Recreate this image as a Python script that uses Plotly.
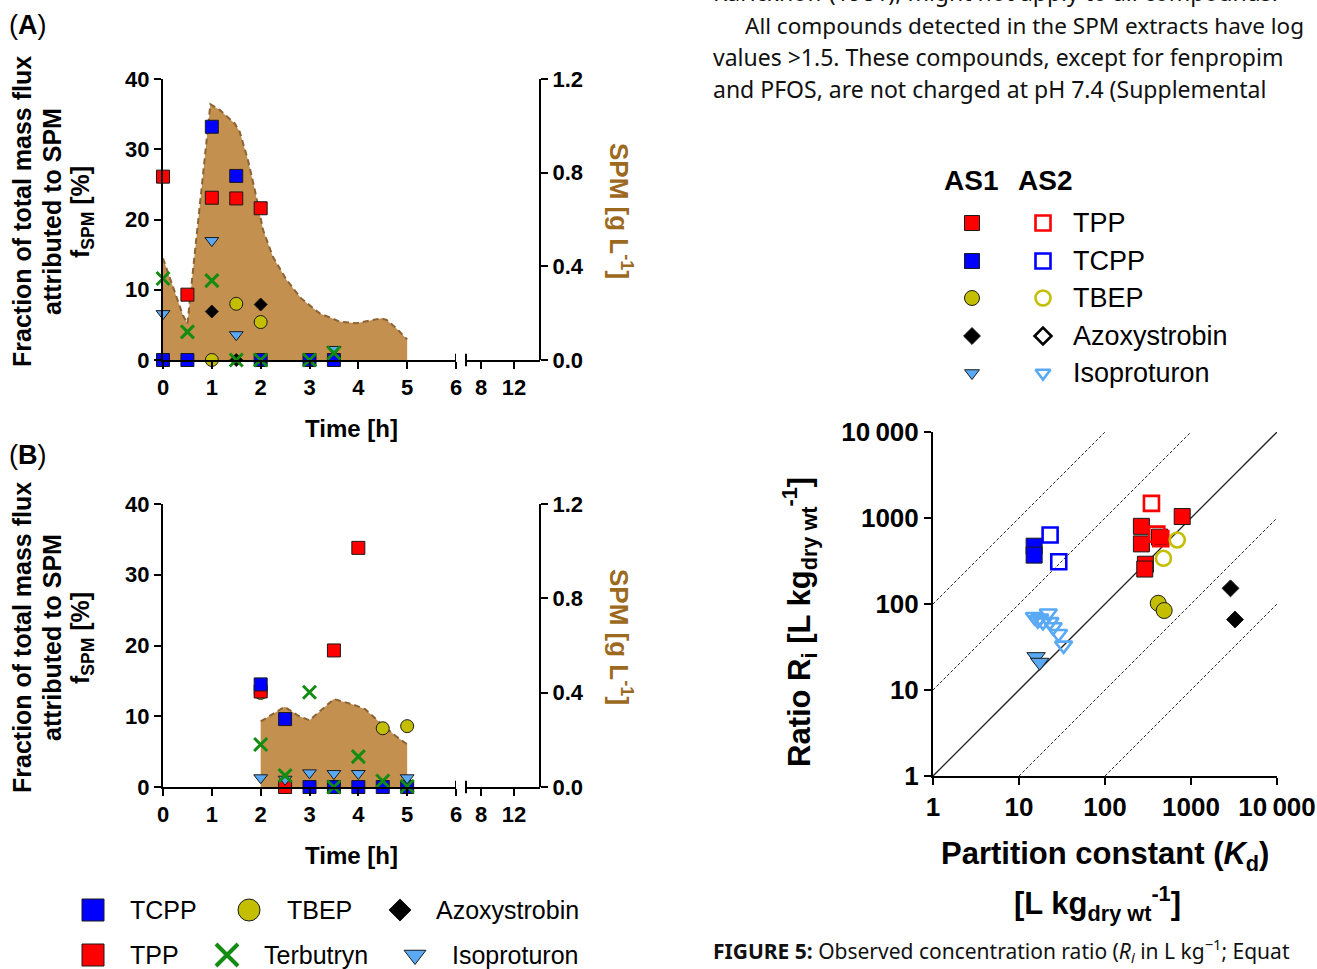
import plotly.graph_objects as go

W, H = 1317, 969
def fx(p): return p / W
def fy(p): return 1 - p / H

FONT = "Liberation Sans"
BODY = "Noto Sans"

# ---------------- data: panel A (time [h], fSPM [%]) ----------------
A_spm_t = [0, 0.41, 0.5, 0.97, 1.16, 1.47, 1.57, 1.74, 1.88, 2.05, 2.25, 2.53, 2.83, 3.21, 3.62, 3.96, 4.47, 4.58, 4.78, 5.0]
A_spm   = [0.434, 0.19, 0.155, 1.092, 1.068, 1.01, 0.975, 0.854, 0.726, 0.555, 0.441, 0.342, 0.263, 0.199, 0.164, 0.157, 0.178, 0.171, 0.135, 0.088]

A_TPP_t  = [0, 0.5, 1, 1.5, 2]
A_TPP    = [26.1, 9.3, 23.1, 23.0, 21.6]
A_TCPP_t = [0, 0.5, 1, 1.5, 2, 3, 3.5]
A_TCPP   = [0, 0, 33.2, 26.2, 0, 0, 0]
A_TBEP_t = [1, 1.5, 2]
A_TBEP   = [0, 8.0, 5.4]
A_AZO_t  = [1, 1.5, 2]
A_AZO    = [6.9, 0, 7.9]
A_TERB_t = [0, 0.5, 1, 1.5, 2, 3, 3.5]
A_TERB   = [11.6, 4.0, 11.3, 0, 0, 0, 1.0]
A_ISO_t  = [0, 1, 1.5, 3.5]
A_ISO    = [6.6, 17.0, 3.6, 1.5]

# ---------------- data: panel B ----------------
B_spm_t = [2, 2.31, 2.49, 2.79, 3.0, 3.26, 3.5, 3.87, 4.14, 4.48, 4.76, 5.0]
B_spm   = [0.278, 0.316, 0.34, 0.30, 0.283, 0.33, 0.373, 0.351, 0.33, 0.266, 0.217, 0.181]

B_TPP_t  = [2, 2.5, 3.5, 4]
B_TPP    = [13.5, 0, 19.3, 33.8]
B_TCPP_t = [2, 2.5, 3, 3.5, 4, 4.5, 5]
B_TCPP   = [14.5, 9.6, 0, 0, 0, 0, 0]
B_TBEP_t = [2, 4.5, 5]
B_TBEP   = [13.3, 8.3, 8.6]
B_TERB_t = [2, 2.5, 3, 3.5, 4, 4.5, 5]
B_TERB   = [6.0, 1.6, 13.4, 0, 4.3, 0.85, 0.1]
B_ISO_t  = [2, 2.5, 3, 3.5, 4, 5]
B_ISO    = [1.3, 1.1, 2.0, 1.9, 1.9, 1.3]

# ---------------- data: panel C (Kd vs Ri) ----------------
AS1_TPP_kd  = [265, 265, 295, 290, 430, 790]
AS1_TPP_r   = [800, 500, 290, 255, 600, 1040]
AS1_TCPP_kd = [15, 15]
AS1_TCPP_r  = [470, 370]
AS1_TBEP_kd = [416, 488]
AS1_TBEP_r  = [102, 84]
AS1_AZO_kd  = [2880, 3250]
AS1_AZO_r   = [152, 66]
AS1_ISO_kd  = [15.8, 17.4]
AS1_ISO_r   = [24.4, 21]

AS2_TPP_kd  = [347, 400, 445]
AS2_TPP_r   = [1480, 650, 575]
AS2_TCPP_kd = [23, 29]
AS2_TCPP_r  = [635, 310]
AS2_TBEP_kd = [692, 478]
AS2_TBEP_r  = [555, 340]
AS2_ISO_kd  = [15.1, 16.5, 17.4, 19, 21.9, 22.9, 25, 28.8, 33]
AS2_ISO_r   = [71, 65, 68, 62, 78, 62, 54, 45, 33]

ref_factors = [100, 10, 1, 0.1, 0.01]

time_ticks = [0, 1, 2, 3, 4, 5, 6]
late_ticks = [8, 12]
f_ticks = [0, 10, 20, 30, 40]
spm_ticks = [0, 0.4, 0.8, 1.2]
log_ticks = [1, 10, 100, 1000, 10000]
log_text = ["1", "10", "100", "1000", "10\u2009000"]

# ---------------- styles ----------------
COL = {
    "TPP": "#FF0000", "TCPP": "#0000FF", "TBEP": "#C4BE00",
    "Azoxystrobin": "#000000", "Isoproturon": "#5AA9F5", "Terbutryn": "#128C12",
}
SYM = {
    "TPP": "square", "TCPP": "square", "TBEP": "circle",
    "Azoxystrobin": "diamond", "Isoproturon": "triangle-down", "Terbutryn": "x-thin",
}
SZ = {"TPP": 13, "TCPP": 13, "TBEP": 13, "Azoxystrobin": 10, "Isoproturon": 12, "Terbutryn": 13}
FILL = "#C3904F"
EDGE = "#8B6335"
BROWN = "#9C6A1F"

def mk(name, size=None, open_=False, lw=None):
    s = size or SZ[name]
    c = COL[name]
    if name == "Terbutryn":
        return dict(symbol="x-thin", size=s, color=c, line=dict(color=c, width=lw or 3))
    if open_:
        return dict(symbol=SYM[name] + "-open", size=s, color=c, line=dict(color=c, width=lw or 3))
    return dict(symbol=SYM[name], size=s, color=c, line=dict(color="#1a1a1a", width=1))

fig = go.Figure()

# ---------- panel A ----------
fig.add_trace(go.Scatter(x=A_spm_t, y=A_spm, xaxis="x", yaxis="y", mode="lines", fill="tozeroy",
                         fillcolor=FILL, line=dict(color=EDGE, width=2, dash="6px,4px"),
                         showlegend=False, hoverinfo="skip"))
fig.add_trace(go.Scatter(x=[None], y=[None], xaxis="x2", yaxis="y", showlegend=False))
for name, t, v in [("TBEP", A_TBEP_t, A_TBEP), ("Azoxystrobin", A_AZO_t, A_AZO), ("TPP", A_TPP_t, A_TPP),
                   ("TCPP", A_TCPP_t, A_TCPP), ("Isoproturon", A_ISO_t, A_ISO), ("Terbutryn", A_TERB_t, A_TERB)]:
    fig.add_trace(go.Scatter(x=t, y=v, xaxis="x", yaxis="y2", mode="markers", marker=mk(name),
                             cliponaxis=False, showlegend=False, name=name))

# ---------- panel B ----------
fig.add_trace(go.Scatter(x=B_spm_t, y=B_spm, xaxis="x3", yaxis="y3", mode="lines", fill="tozeroy",
                         fillcolor=FILL, line=dict(color=EDGE, width=2, dash="6px,4px"),
                         showlegend=False, hoverinfo="skip"))
fig.add_trace(go.Scatter(x=[None], y=[None], xaxis="x4", yaxis="y3", showlegend=False))
for name, t, v in [("TBEP", B_TBEP_t, B_TBEP), ("TPP", B_TPP_t, B_TPP), ("TCPP", B_TCPP_t, B_TCPP),
                   ("Isoproturon", B_ISO_t, B_ISO), ("Terbutryn", B_TERB_t, B_TERB)]:
    fig.add_trace(go.Scatter(x=t, y=v, xaxis="x3", yaxis="y4", mode="markers", marker=mk(name),
                             cliponaxis=False, showlegend=False, name=name))

# ---------- panel C ----------
for f in ref_factors:
    x0 = max(1, 1 / f); x1 = min(1e4, 1e4 / f)
    fig.add_trace(go.Scatter(x=[x0, x1], y=[f * x0, f * x1], xaxis="x5", yaxis="y5", mode="lines",
                             line=dict(color="#222", width=1.3 if f == 1 else 1,
                                       dash="solid" if f == 1 else "3px,2px"),
                             showlegend=False, hoverinfo="skip"))
for name, kd, r in [("TCPP", AS1_TCPP_kd, AS1_TCPP_r), ("TPP", AS1_TPP_kd, AS1_TPP_r),
                    ("TBEP", AS1_TBEP_kd, AS1_TBEP_r), ("Azoxystrobin", AS1_AZO_kd, AS1_AZO_r),
                    ("Isoproturon", AS1_ISO_kd, AS1_ISO_r)]:
    fig.add_trace(go.Scatter(x=kd, y=r, xaxis="x5", yaxis="y5", mode="markers",
                             marker=mk(name, size=16 if name != "Azoxystrobin" else 13),
                             cliponaxis=False, showlegend=False, name=name + " AS1"))
for name, kd, r in [("TCPP", AS2_TCPP_kd, AS2_TCPP_r), ("TPP", AS2_TPP_kd, AS2_TPP_r),
                    ("TBEP", AS2_TBEP_kd, AS2_TBEP_r), ("Isoproturon", AS2_ISO_kd, AS2_ISO_r)]:
    fig.add_trace(go.Scatter(x=kd, y=r, xaxis="x5", yaxis="y5", mode="markers",
                             marker=mk(name, size=15, open_=True, lw=2.6),
                             cliponaxis=False, showlegend=False, name=name + " AS2"))

# ---------- legend swatches (layout positions in pixels on an overlay axis) ----------
legend_items = [
    # (name, px, py, size, open)
    ("TCPP", 93, 910, 22, False), ("TBEP", 249, 910, 22, False), ("Azoxystrobin", 400, 910, 17, False),
    ("TPP", 93, 955, 22, False), ("Terbutryn", 227, 955, 22, False), ("Isoproturon", 415, 955, 19, False),
]
right_rows = [("TPP", 223), ("TCPP", 261), ("TBEP", 298), ("Azoxystrobin", 336), ("Isoproturon", 373)]
for name, py in right_rows:
    s = 15 if name not in ("Azoxystrobin", "Isoproturon") else 13
    legend_items.append((name, 972, py, s, False))
    legend_items.append((name, 1043, py, s, True))
for name, px, py, s, op in legend_items:
    m = mk(name, size=s, open_=op, lw=2.6 if op else (4 if name == "Terbutryn" else None))
    fig.add_trace(go.Scatter(x=[px], y=[py], xaxis="x6", yaxis="y6", mode="markers", marker=m,
                             cliponaxis=False, showlegend=False, hoverinfo="skip"))

# ---------- axes ----------
tf = dict(family=FONT, size=22, color="black", weight="bold")
base = dict(showline=True, linecolor="black", linewidth=2, ticks="outside", ticklen=7, tickwidth=2,
            tickcolor="black", showgrid=False, zeroline=False, tickfont=tf, fixedrange=True, automargin=False)

def ydom(top, bot): return [fy(bot), fy(top)]

layout_axes = {}
for (xa, xb, ys, yf, top, bot) in [("xaxis", "xaxis2", "y", "y2", 79, 360),
                                   ("xaxis3", "xaxis4", "y3", "y4", 504, 787)]:
    layout_axes[xa] = dict(base, domain=[fx(163), fx(456)], range=[0, 6], tickvals=time_ticks, anchor=ys)
    layout_axes[xb] = dict(base, domain=[fx(466), fx(540)], range=[6.18, 15.15], tickvals=late_ticks, anchor=ys)
    layout_axes["yaxis" + ys[1:]] = dict(base, domain=ydom(top, bot), range=[0, 1.2], tickvals=spm_ticks,
                                         ticktext=["0.0", "0.4", "0.8", "1.2"], side="right",
                                         anchor="free", position=fx(540))
    layout_axes["yaxis" + yf[1:]] = dict(base, range=[0, 40], tickvals=f_ticks, overlaying=ys,
                                         side="left", anchor=xa.replace("axis", ""))

tf_big = dict(family=FONT, size=26, color="black", weight="bold")
layout_axes["xaxis5"] = dict(base, type="log", domain=[fx(933), fx(1277)], range=[0, 4], tickvals=log_ticks,
                             ticktext=log_text, tickfont=tf_big, anchor="y5", ticklabeloverflow="allow")
layout_axes["yaxis5"] = dict(base, type="log", domain=ydom(432, 776), range=[0, 4], tickvals=log_ticks,
                             ticktext=log_text, tickfont=tf_big, anchor="x5", ticklabeloverflow="allow")
layout_axes["xaxis6"] = dict(domain=[0, 1], range=[0, W], visible=False, anchor="y6", fixedrange=True)
layout_axes["yaxis6"] = dict(domain=[0, 1], range=[H, 0], visible=False, anchor="x6", fixedrange=True)

# ---------- break marks ----------
shapes = []
for xa, xb, ys in [("x", "x2", "y"), ("x3", "x4", "y3")]:
    shapes.append(dict(type="line", xref=xa, yref=ys + " domain", x0=6, x1=6, y0=-0.022, y1=0.022,
                       line=dict(color="black", width=2)))
    shapes.append(dict(type="line", xref=xb + " domain", yref=ys + " domain", x0=0, x1=0, y0=-0.022, y1=0.022,
                       line=dict(color="black", width=2)))

# ---------- text (placed on the pixel overlay axis so it never pushes margins) ----------
ann = []
def A(text, px, py, size, xanchor="center", angle=0, color="black", family=FONT, yanchor="middle"):
    ann.append(dict(text=text, x=px, y=py, xref="x6", yref="y6", showarrow=False,
                    xanchor=xanchor, yanchor=yanchor, textangle=angle,
                    font=dict(family=family, size=size, color=color)))

for lab, py, cy in [("A", 25, 212), ("B", 455, 638)]:
    A("(<b>%s</b>)" % lab, 7, py, 27, xanchor="left")
    A("<b>Fraction of total mass flux</b>", 22, cy, 25, angle=-90)
    A("<b>attributed to SPM</b>", 52, cy, 25, angle=-90)
    A("<b>f<sub>SPM</sub> [%]</b>", 82, cy, 25, angle=-90)
    A("<b>SPM [g L<sup>-1</sup>]</b>", 621, cy - 1, 26, angle=90, color=BROWN)
A("<b>Time [h]</b>", 351, 428, 24)
A("<b>Time [h]</b>", 351, 855, 24)

A("<b>Ratio R<sub>i</sub> [L kg<sub>dry wt</sub><sup>-1</sup>]</b>", 799, 622, 31, angle=-90)
A("<b>Partition constant (<i>K</i><sub>d</sub>)</b>", 1105, 856, 31)
A("<b>[L kg<sub>dry wt</sub><sup>-1</sup>]</b>", 1097, 903, 31)

A("<b>AS1</b>", 971, 180, 28)
A("<b>AS2</b>", 1045, 180, 28)
for name, py in right_rows:
    A(name, 1071, py, 27, xanchor="left")

for name, px, py in [("TCPP", 128, 910), ("TBEP", 285, 910), ("Azoxystrobin", 434, 910),
                     ("TPP", 128, 955), ("Terbutryn", 262, 955), ("Isoproturon", 450, 955)]:
    A(name, px, py, 25, xanchor="left")

# body text of the page around the figure (only the portion visible in the crop)
A("Karickhoff (1981), might not apply to all compounds.", 711, 10, 23, xanchor="left", family=BODY,
  color="#111", yanchor="bottom")
A("All compounds detected in the SPM extracts have log", 743, 25, 22.5, xanchor="left", family=BODY, color="#111")
A("values >1.5. These compounds, except for fenpropim", 711, 57, 23, xanchor="left", family=BODY, color="#111")
A("and PFOS, are not charged at pH 7.4 (Supplemental", 711, 89, 23, xanchor="left", family=BODY, color="#111")
A("<b>FIGURE 5:</b> Observed concentration ratio (<i>R<sub>i</sub></i> in L kg<sup>\u22121</sup>; Equat",
  711, 969, 21, xanchor="left", family=BODY, color="#111", yanchor="bottom")

fig.update_layout(width=W, height=H, autosize=False, margin=dict(l=0, r=0, t=0, b=0, pad=0),
                  paper_bgcolor="white", plot_bgcolor="rgba(0,0,0,0)",
                  font=dict(family=FONT, color="black"), showlegend=False,
                  shapes=shapes, annotations=ann, **layout_axes)

fig.write_html("out.html")
